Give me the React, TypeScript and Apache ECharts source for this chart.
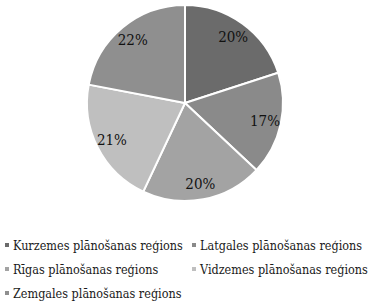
import React, { useEffect, useRef } from "react";
import * as echarts from "echarts";

const categories = [
  "Kurzemes plānošanas reģions",
  "Latgales plānošanas reģions",
  "Rīgas plānošanas reģions",
  "Vidzemes plānošanas reģions",
  "Zemgales plānošanas reģions",
];
const values = [20, 17, 20, 21, 22];
const colors = ["#6b6b6b", "#8a8a8a", "#a3a3a3", "#bfbfbf", "#8f8f8f"];
const leftColumn = [categories[0], categories[2], categories[4]];
const rightColumn = [categories[1], categories[3]];

const FONT = "DejaVu Serif Condensed";

export default function App() {
  const ref = useRef<HTMLDivElement>(null);
  useEffect(() => {
    if (!ref.current) return;
    const chart = echarts.init(ref.current, null, { renderer: "svg" });
    const data = categories.map((name, i) => ({
      name,
      value: values[i],
      itemStyle: { color: colors[i] },
    }));
    const legendBase = {
      orient: "vertical" as const,
      top: 238,
      padding: 0,
      height: 66,
      itemWidth: 6,
      itemHeight: 6,
      itemGap: 10,
      icon: "rect",
      textStyle: {
        fontFamily: FONT,
        fontSize: 12.5,
        lineHeight: 14,
        color: "#1a1a1a",
        padding: [0, 0, 0, -2],
      },
    };
    chart.setOption({
      animation: false,
      backgroundColor: "#ffffff",
      color: colors,
      legend: [
        { ...legendBase, left: 3, data: leftColumn },
        { ...legendBase, left: 190, data: rightColumn },
      ],
      series: [
        {
          type: "pie",
          center: [185, 103],
          radius: 98,
          startAngle: 90,
          clockwise: true,
          data,
          label: { show: false },
          labelLine: { show: false },
          itemStyle: { borderColor: "#ffffff", borderWidth: 2 },
          emphasis: { disabled: true },
        },
        {
          type: "pie",
          center: [185, 103],
          radius: [60, 98],
          startAngle: 90,
          clockwise: true,
          silent: true,
          legendHoverLink: false,
          data: categories.map((name, i) => ({ name, value: values[i] })),
          itemStyle: { color: "transparent", borderWidth: 0 },
          label: {
            show: true,
            position: "inside",
            formatter: (p: any) => `${p.value}%`,
            fontFamily: FONT,
            fontSize: 15,
            color: "#111111",
          },
          labelLine: { show: false },
          emphasis: { disabled: true },
        },
      ],
    });
    return () => chart.dispose();
  }, []);
  return (
    <div
      ref={ref}
      style={{ position: "fixed", left: 0, top: 0, width: 378, height: 304 }}
    />
  );
}
